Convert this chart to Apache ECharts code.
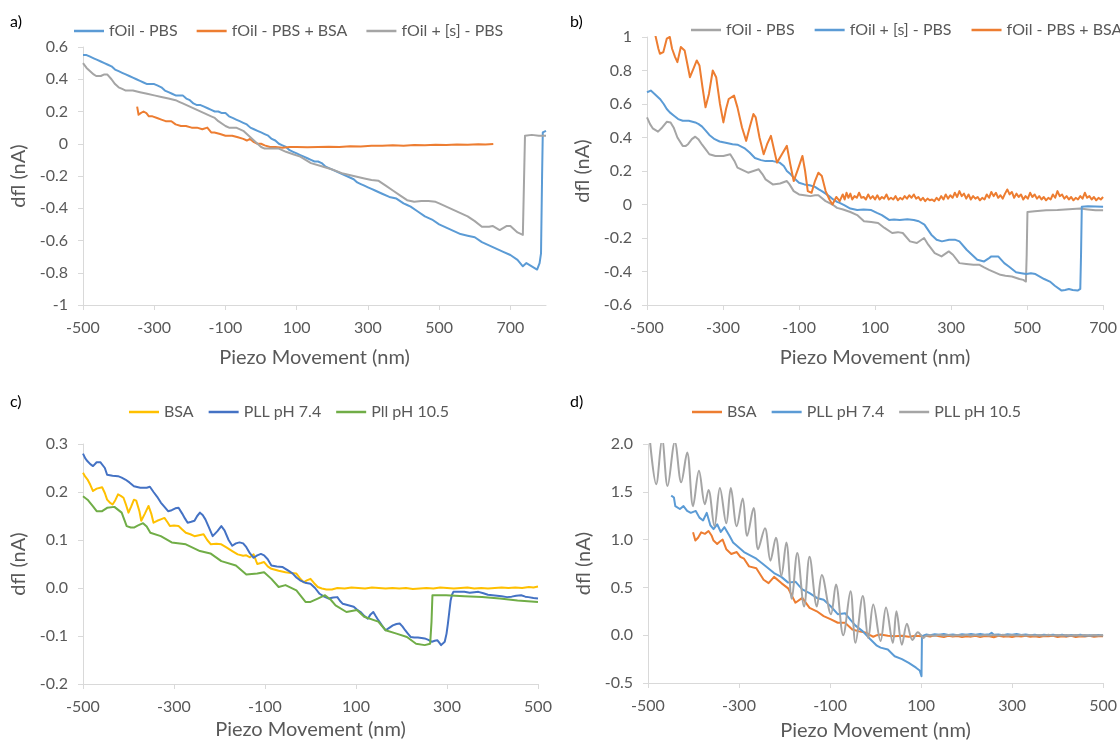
<!DOCTYPE html>
<html>
<head>
<meta charset="utf-8">
<script src="https://cdn.jsdelivr.net/npm/echarts@6/dist/echarts.min.js"></script>
<style>
  html, body { margin: 0; padding: 0; background: #ffffff; }
  #wrap { position: relative; width: 1120px; height: 746px; overflow: hidden; }
  .panel { position: absolute; width: 560px; height: 373px; }
</style>
</head>
<body>
<div id="wrap">
  <div class="panel" id="pa" style="left:0;top:0"></div>
  <div class="panel" id="pb" style="left:560px;top:0"></div>
  <div class="panel" id="pc" style="left:0;top:373px"></div>
  <div class="panel" id="pd" style="left:560px;top:373px"></div>
</div>
<script>
// ---------- panel a) ----------
const aLegend = ['fOil - PBS', 'fOil - PBS + BSA', 'fOil + [s] - PBS'];
const aXAxis = [-500, 800, 200];   // min, max, interval (nm)
const aYAxis = [-1, 0.6, 0.2];     // min, max, interval (nA)
const aPBS = [[-500,0.55],[-490,0.55],[-480,0.54],[-470,0.53],[-460,0.52],[-450,0.51],[-440,0.50],[-430,0.49],[-420,0.48],[-410,0.46],[-400,0.45],[-390,0.44],[-380,0.43],[-370,0.42],[-360,0.41],[-350,0.40],[-340,0.39],[-330,0.38],[-320,0.37],[-310,0.37],[-300,0.37],[-290,0.36],[-280,0.35],[-270,0.33],[-260,0.32],[-250,0.31],[-240,0.30],[-230,0.30],[-220,0.30],[-210,0.28],[-200,0.27],[-190,0.25],[-180,0.24],[-170,0.24],[-160,0.23],[-150,0.22],[-140,0.21],[-130,0.20],[-120,0.20],[-110,0.19],[-100,0.19],[-90,0.17],[-80,0.16],[-70,0.15],[-60,0.14],[-50,0.13],[-40,0.12],[-30,0.10],[-20,0.09],[-10,0.08],[0,0.07],[10,0.06],[20,0.05],[30,0.03],[40,0.02],[50,0.00],[60,-0.01],[70,-0.02],[80,-0.04],[90,-0.05],[100,-0.06],[110,-0.07],[120,-0.08],[130,-0.09],[140,-0.10],[150,-0.11],[160,-0.11],[170,-0.12],[180,-0.14],[200,-0.16],[220,-0.18],[240,-0.20],[260,-0.22],[270,-0.24],[280,-0.25],[290,-0.26],[300,-0.27],[310,-0.28],[320,-0.29],[340,-0.31],[360,-0.33],[380,-0.34],[400,-0.37],[410,-0.38],[420,-0.39],[440,-0.42],[460,-0.45],[480,-0.47],[500,-0.50],[520,-0.52],[540,-0.54],[560,-0.56],[580,-0.57],[600,-0.58],[620,-0.61],[640,-0.63],[660,-0.65],[680,-0.67],[700,-0.69],[720,-0.72],[735,-0.76],[745,-0.74],[760,-0.76],[775,-0.78],[782,-0.74],[786,-0.68],[789,-0.2],[791,0.07],[795,0.08],[800,0.08]];
const aBSA = [[-348,0.23],[-344,0.18],[-338,0.19],[-330,0.20],[-322,0.19],[-315,0.17],[-305,0.17],[-292,0.16],[-280,0.15],[-268,0.14],[-252,0.14],[-240,0.12],[-225,0.11],[-211,0.11],[-195,0.10],[-180,0.10],[-165,0.09],[-151,0.10],[-140,0.07],[-131,0.07],[-115,0.06],[-100,0.05],[-81,0.05],[-65,0.04],[-50,0.03],[-40,0.02],[-31,0.03],[-20,0.01],[-10,0.00],[0,0.00],[10,-0.01],[25,-0.02],[40,-0.02],[60,-0.025],[80,-0.02],[100,-0.02],[130,-0.022],[160,-0.02],[190,-0.018],[220,-0.02],[250,-0.015],[280,-0.017],[310,-0.012],[340,-0.013],[370,-0.01],[400,-0.012],[430,-0.008],[460,-0.01],[490,-0.006],[520,-0.008],[550,-0.005],[580,-0.006],[610,-0.003],[630,-0.005],[652,-0.002]];
const aS = [[-500,0.50],[-490,0.47],[-480,0.45],[-470,0.43],[-463,0.42],[-450,0.42],[-440,0.43],[-432,0.43],[-420,0.40],[-410,0.37],[-400,0.35],[-390,0.34],[-380,0.33],[-360,0.33],[-340,0.32],[-320,0.31],[-300,0.30],[-280,0.29],[-260,0.28],[-240,0.27],[-230,0.26],[-220,0.25],[-200,0.23],[-180,0.21],[-160,0.19],[-140,0.17],[-130,0.16],[-120,0.14],[-100,0.11],[-90,0.10],[-70,0.10],[-50,0.08],[-30,0.04],[-10,0.00],[0,-0.02],[10,-0.03],[30,-0.03],[50,-0.03],[70,-0.05],[90,-0.065],[110,-0.08],[140,-0.12],[170,-0.14],[200,-0.16],[230,-0.185],[260,-0.20],[290,-0.215],[310,-0.225],[330,-0.23],[350,-0.26],[370,-0.29],[390,-0.32],[410,-0.35],[430,-0.36],[450,-0.355],[470,-0.355],[490,-0.36],[500,-0.37],[520,-0.39],[540,-0.41],[560,-0.43],[580,-0.45],[600,-0.48],[620,-0.515],[640,-0.515],[650,-0.51],[670,-0.535],[690,-0.51],[700,-0.51],[720,-0.55],[735,-0.565],[740,-0.56],[741,0.05],[760,0.055],[780,0.05],[800,0.05]];

// ---------- panel b) ----------
const bLegend = ['fOil - PBS', 'fOil + [s] - PBS', 'fOil - PBS + BSA'];
const bXAxis = [-500, 700, 200];
const bYAxis = [-0.6, 1, 0.2];
const bPBS = [[-500,0.52],[-492,0.48],[-485,0.455],[-471,0.435],[-460,0.46],[-448,0.494],[-438,0.49],[-430,0.46],[-420,0.40],[-406,0.35],[-398,0.35],[-392,0.36],[-382,0.39],[-373,0.405],[-365,0.39],[-355,0.357],[-346,0.33],[-336,0.30],[-320,0.29],[-299,0.29],[-281,0.30],[-270,0.26],[-262,0.22],[-248,0.205],[-234,0.19],[-220,0.20],[-206,0.21],[-196,0.18],[-188,0.15],[-169,0.12],[-150,0.125],[-132,0.14],[-125,0.12],[-114,0.08],[-100,0.06],[-86,0.055],[-70,0.05],[-58,0.055],[-49,0.055],[-30,0.02],[-12,0.0],[0,-0.02],[16,-0.03],[35,-0.045],[53,-0.063],[71,-0.10],[90,-0.105],[108,-0.11],[125,-0.14],[145,-0.17],[160,-0.165],[173,-0.17],[192,-0.22],[210,-0.23],[229,-0.20],[240,-0.24],[257,-0.29],[275,-0.31],[294,-0.28],[305,-0.30],[322,-0.35],[340,-0.355],[359,-0.36],[375,-0.36],[387,-0.375],[400,-0.39],[415,-0.405],[430,-0.42],[443,-0.425],[460,-0.43],[480,-0.445],[490,-0.45],[497,-0.46],[499,-0.3],[501,-0.045],[520,-0.04],[550,-0.035],[580,-0.033],[610,-0.028],[640,-0.024],[660,-0.03],[680,-0.035],[700,-0.035]];
const bS = [[-500,0.67],[-490,0.68],[-480,0.66],[-466,0.63],[-456,0.60],[-448,0.57],[-440,0.55],[-429,0.53],[-418,0.51],[-406,0.50],[-390,0.50],[-373,0.49],[-364,0.48],[-355,0.465],[-345,0.44],[-336,0.415],[-322,0.39],[-309,0.376],[-290,0.367],[-275,0.36],[-262,0.357],[-244,0.337],[-230,0.31],[-216,0.278],[-200,0.265],[-188,0.259],[-169,0.259],[-151,0.25],[-140,0.23],[-132,0.20],[-122,0.18],[-114,0.16],[-100,0.13],[-86,0.12],[-72,0.115],[-58,0.105],[-48,0.09],[-40,0.08],[-30,0.065],[-21,0.05],[-10,0.03],[0,0.016],[7,0.01],[20,-0.005],[35,-0.024],[53,-0.033],[70,-0.03],[90,-0.033],[105,-0.05],[118,-0.063],[137,-0.092],[150,-0.09],[165,-0.092],[185,-0.088],[202,-0.092],[215,-0.10],[230,-0.12],[248,-0.18],[262,-0.21],[276,-0.22],[295,-0.21],[310,-0.21],[322,-0.22],[341,-0.27],[355,-0.30],[369,-0.33],[387,-0.34],[400,-0.32],[406,-0.31],[424,-0.31],[440,-0.35],[452,-0.37],[471,-0.405],[485,-0.41],[498,-0.415],[510,-0.41],[522,-0.415],[545,-0.445],[560,-0.46],[573,-0.485],[591,-0.514],[600,-0.51],[610,-0.504],[620,-0.51],[633,-0.514],[640,-0.504],[642,-0.3],[644,-0.014],[660,-0.01],[680,-0.012],[700,-0.014]];
const bBSA = [[-480,1.03],[-470,0.93],[-466,0.90],[-457,0.91],[-448,0.99],[-440,1.0],[-434,0.93],[-426,0.88],[-420,0.85],[-411,0.94],[-401,0.92],[-394,0.84],[-387,0.76],[-378,0.81],[-369,0.86],[-362,0.83],[-354,0.70],[-346,0.58],[-337,0.66],[-327,0.80],[-318,0.76],[-308,0.60],[-299,0.49],[-292,0.57],[-285,0.63],[-271,0.65],[-262,0.58],[-250,0.46],[-239,0.38],[-230,0.46],[-220,0.54],[-214,0.52],[-204,0.40],[-193,0.30],[-184,0.36],[-174,0.41],[-166,0.33],[-158,0.25],[-145,0.30],[-132,0.35],[-123,0.24],[-114,0.14],[-103,0.21],[-91,0.29],[-84,0.20],[-77,0.08],[-67,0.07],[-58,0.14],[-49,0.19],[-40,0.17],[-30,0.08],[-20,0.03],[-12,0.0],[-2,0.045],[7,0.02],[15,0.06],[20,0.03],[25,0.07],[30,0.04],[35,0.065],[40,0.03],[46,0.05],[52,0.04],[58,0.07],[64,0.04],[70,0.045],[76,0.03],[82,0.06],[88,0.035],[94,0.05],[100,0.03],[106,0.055],[112,0.03],[118,0.045],[124,0.035],[130,0.06],[136,0.03],[142,0.04],[148,0.03],[154,0.05],[160,0.025],[166,0.04],[172,0.03],[178,0.05],[184,0.035],[190,0.055],[196,0.04],[202,0.06],[208,0.035],[214,0.045],[220,0.025],[226,0.04],[232,0.02],[238,0.035],[244,0.025],[250,0.03],[256,0.02],[262,0.04],[268,0.025],[274,0.05],[280,0.03],[286,0.06],[292,0.035],[298,0.055],[304,0.04],[310,0.07],[316,0.045],[322,0.08],[328,0.05],[334,0.065],[340,0.035],[346,0.06],[352,0.03],[358,0.05],[364,0.035],[370,0.045],[376,0.025],[382,0.04],[388,0.03],[394,0.06],[400,0.04],[406,0.075],[412,0.05],[418,0.07],[424,0.04],[430,0.055],[436,0.035],[442,0.065],[448,0.09],[454,0.06],[460,0.075],[466,0.04],[472,0.065],[478,0.045],[484,0.06],[490,0.03],[496,0.05],[502,0.035],[508,0.07],[514,0.045],[520,0.06],[526,0.035],[532,0.05],[538,0.03],[544,0.045],[550,0.025],[556,0.04],[562,0.03],[568,0.06],[574,0.04],[580,0.08],[586,0.05],[592,0.06],[598,0.035],[604,0.05],[610,0.03],[616,0.045],[622,0.025],[628,0.04],[634,0.03],[640,0.05],[646,0.035],[652,0.07],[658,0.04],[664,0.05],[670,0.03],[676,0.045],[682,0.025],[688,0.04],[694,0.03],[700,0.045]];

// ---------- panel c) ----------
const cLegend = ['BSA', 'PLL pH 7.4', 'Pll pH 10.5'];
const cXAxis = [-500, 500, 200];
const cYAxis = [-0.2, 0.3, 0.1];
const cBSA = [[-500,0.24],[-495,0.232],[-490,0.226],[-484,0.215],[-478,0.202],[-470,0.207],[-466,0.209],[-458,0.21],[-452,0.198],[-447,0.184],[-441,0.178],[-435,0.174],[-429,0.183],[-423,0.195],[-417,0.192],[-411,0.188],[-405,0.172],[-400,0.157],[-394,0.17],[-388,0.184],[-383,0.182],[-380,0.178],[-376,0.16],[-372,0.14],[-364,0.155],[-356,0.171],[-350,0.155],[-345,0.136],[-337,0.14],[-329,0.143],[-321,0.146],[-315,0.138],[-309,0.129],[-300,0.13],[-290,0.129],[-282,0.122],[-274,0.115],[-264,0.112],[-255,0.108],[-245,0.11],[-235,0.112],[-227,0.1],[-219,0.091],[-207,0.092],[-196,0.091],[-184,0.084],[-172,0.077],[-160,0.07],[-148,0.067],[-141,0.068],[-133,0.064],[-125,0.07],[-117,0.05],[-109,0.052],[-102,0.054],[-94,0.045],[-86,0.04],[-70,0.036],[-55,0.033],[-43,0.031],[-31,0.03],[-23,0.02],[-15,0.012],[-8,0.016],[0,0.019],[8,0.01],[16,0.002],[25,-0.001],[35,-0.003],[47,-0.003],[59,0.0],[75,-0.001],[90,0.001],[105,0.0],[120,-0.001],[135,0.001],[150,0.0],[165,-0.001],[180,0.0],[195,-0.001],[210,0.0],[225,-0.002],[240,-0.001],[255,0.0],[270,-0.001],[285,0.001],[300,0.0],[315,-0.001],[330,0.0],[345,0.001],[360,-0.001],[375,0.0],[390,-0.001],[405,0.0],[420,0.001],[435,0.0],[450,0.001],[465,0.0],[480,0.002],[490,0.001],[500,0.003]];
const cPLL74 = [[-500,0.28],[-495,0.27],[-490,0.264],[-484,0.258],[-478,0.254],[-470,0.262],[-462,0.262],[-458,0.26],[-452,0.25],[-447,0.236],[-435,0.234],[-423,0.233],[-415,0.23],[-407,0.226],[-398,0.22],[-388,0.212],[-374,0.209],[-360,0.209],[-353,0.211],[-345,0.20],[-337,0.19],[-329,0.178],[-320,0.168],[-313,0.16],[-305,0.162],[-297,0.166],[-290,0.167],[-282,0.155],[-276,0.145],[-270,0.136],[-262,0.138],[-255,0.14],[-249,0.15],[-243,0.157],[-237,0.152],[-231,0.143],[-224,0.128],[-215,0.108],[-205,0.118],[-196,0.129],[-189,0.12],[-180,0.10],[-172,0.088],[-164,0.093],[-156,0.095],[-148,0.093],[-141,0.085],[-133,0.072],[-125,0.063],[-117,0.068],[-109,0.071],[-102,0.068],[-94,0.06],[-86,0.047],[-74,0.045],[-62,0.044],[-55,0.04],[-47,0.035],[-39,0.03],[-31,0.022],[-23,0.016],[-12,0.011],[0,0.009],[10,0.0],[20,-0.012],[30,-0.018],[40,-0.022],[50,-0.02],[59,-0.019],[65,-0.027],[71,-0.033],[83,-0.036],[95,-0.039],[102,-0.045],[110,-0.05],[118,-0.058],[126,-0.064],[132,-0.055],[138,-0.05],[143,-0.058],[149,-0.067],[157,-0.078],[165,-0.088],[173,-0.083],[181,-0.078],[189,-0.075],[196,-0.074],[202,-0.08],[208,-0.088],[214,-0.095],[220,-0.102],[228,-0.103],[236,-0.103],[244,-0.104],[251,-0.105],[259,-0.108],[267,-0.112],[273,-0.11],[279,-0.109],[283,-0.114],[287,-0.119],[291,-0.116],[295,-0.112],[299,-0.095],[302,-0.074],[305,-0.05],[308,-0.026],[311,-0.014],[314,-0.008],[325,-0.008],[338,-0.008],[350,-0.01],[360,-0.009],[369,-0.008],[380,-0.011],[390,-0.014],[400,-0.015],[410,-0.016],[420,-0.017],[432,-0.019],[442,-0.018],[452,-0.016],[463,-0.015],[472,-0.018],[479,-0.019],[490,-0.021],[500,-0.022]];
const cPLL105 = [[-500,0.191],[-490,0.184],[-478,0.17],[-470,0.16],[-458,0.16],[-447,0.167],[-431,0.169],[-415,0.157],[-404,0.129],[-395,0.126],[-388,0.126],[-380,0.13],[-368,0.135],[-360,0.128],[-352,0.115],[-329,0.108],[-305,0.095],[-274,0.091],[-243,0.077],[-220,0.072],[-196,0.056],[-164,0.047],[-141,0.028],[-117,0.03],[-102,0.033],[-86,0.019],[-70,0.002],[-55,0.006],[-31,-0.005],[-11,-0.029],[0,-0.029],[16,-0.022],[32,-0.015],[45,-0.025],[55,-0.036],[79,-0.05],[102,-0.046],[118,-0.06],[149,-0.07],[165,-0.088],[189,-0.095],[212,-0.102],[232,-0.116],[251,-0.119],[263,-0.116],[266,-0.07],[268,-0.015],[298,-0.015],[338,-0.017],[377,-0.019],[416,-0.022],[455,-0.026],[500,-0.029]];

// ---------- panel d) ----------
const dLegend = ['BSA', 'PLL pH 7.4', 'PLL pH 10.5'];
const dXAxis = [-500, 500, 200];
const dYAxis = [-0.5, 2, 0.5];
const dBSA = [[-401,1.076],[-396,0.99],[-390,1.02],[-383,1.076],[-375,1.06],[-367,1.09],[-360,1.04],[-356,0.99],[-348,0.955],[-342,0.98],[-336,1.0],[-328,0.90],[-317,0.85],[-305,0.87],[-297,0.82],[-289,0.80],[-285,0.80],[-278,0.72],[-262,0.70],[-246,0.58],[-235,0.545],[-223,0.61],[-207,0.545],[-192,0.49],[-176,0.34],[-161,0.39],[-145,0.285],[-129,0.25],[-114,0.2],[-98,0.165],[-83,0.13],[-67,0.13],[-51,0.06],[-36,0.04],[-20,0.025],[-12,0.0],[-5,-0.016],[3,0.0],[11,0.007],[27,-0.005],[42,-0.01],[58,-0.005],[73,-0.016],[89,-0.005],[100,-0.01],[110,-0.005],[120,-0.015],[130,-0.002],[140,-0.012],[150,-0.02],[160,-0.005],[170,-0.015],[180,-0.008],[190,-0.02],[200,-0.01],[210,-0.015],[220,-0.005],[230,-0.018],[240,-0.008],[250,-0.012],[260,-0.022],[270,-0.006],[280,-0.015],[290,-0.01],[300,-0.02],[310,-0.008],[320,-0.014],[330,-0.005],[340,-0.016],[350,-0.01],[360,-0.02],[370,-0.008],[380,-0.012],[390,-0.006],[400,-0.018],[410,-0.01],[420,-0.015],[430,-0.006],[440,-0.02],[450,-0.01],[460,-0.014],[470,-0.006],[480,-0.016],[490,-0.01],[500,-0.012]];
const dPLL74 = [[-449,1.46],[-443,1.44],[-440,1.35],[-430,1.32],[-422,1.35],[-414,1.30],[-406,1.28],[-395,1.30],[-387,1.23],[-379,1.20],[-371,1.28],[-363,1.15],[-356,1.11],[-348,1.16],[-340,1.08],[-332,1.13],[-321,1.04],[-313,0.97],[-301,0.92],[-289,0.87],[-285,0.86],[-262,0.80],[-246,0.74],[-223,0.65],[-207,0.61],[-192,0.55],[-176,0.56],[-161,0.48],[-145,0.44],[-129,0.39],[-114,0.37],[-98,0.30],[-83,0.22],[-67,0.23],[-55,0.16],[-44,0.10],[-28,0.04],[-12,-0.04],[3,-0.11],[11,-0.13],[27,-0.15],[42,-0.22],[58,-0.25],[73,-0.29],[89,-0.34],[97,-0.37],[101,-0.43],[102,-0.01],[112,0.007],[120,0.0],[130,0.01],[140,0.004],[150,0.012],[160,0.002],[170,0.008],[180,0.0],[190,0.01],[200,0.004],[210,0.012],[220,0.006],[230,0.014],[240,0.004],[250,0.01],[255,0.025],[260,0.005],[270,0.008],[280,0.0],[290,0.01],[300,0.005],[310,0.012],[320,0.002],[330,0.008],[340,0.0],[350,0.006],[360,-0.004],[370,0.004],[380,0.0],[390,0.006],[400,-0.004],[410,0.004],[420,-0.006],[430,0.002],[440,-0.004],[450,0.004],[460,-0.006],[470,0.0],[480,-0.004],[490,0.002],[500,-0.002]];
const dPLL105 = [[-497,2.1],[-482,1.58],[-469,2.05],[-457,1.56],[-441,2.02],[-427,1.60],[-414,1.91],[-401,1.35],[-388,1.72],[-375,1.37],[-367,1.52],[-354,1.14],[-342,1.54],[-328,1.17],[-318,1.54],[-305,1.14],[-292,1.43],[-282,1.04],[-268,1.33],[-258,0.90],[-243,1.12],[-231,0.78],[-219,1.02],[-207,0.62],[-196,0.97],[-184,0.38],[-172,0.86],[-157,0.30],[-145,0.82],[-129,0.30],[-118,0.63],[-98,0.22],[-87,0.53],[-71,0.0],[-55,0.46],[-44,-0.08],[-28,0.41],[-16,-0.03],[-5,0.32],[11,-0.06],[23,0.29],[38,-0.08],[46,0.25],[58,-0.1],[69,0.12],[81,-0.05],[93,0.03],[100,0.0],[105,-0.03],[110,-0.01],[120,0.0],[130,-0.006],[140,0.004],[150,-0.004],[160,0.003],[170,-0.005],[180,0.002],[190,-0.004],[200,0.004],[210,-0.003],[220,0.002],[230,-0.006],[240,0.003],[250,-0.004],[260,0.002],[270,-0.005],[280,0.004],[290,-0.003],[300,0.002],[310,-0.004],[320,0.003],[330,-0.005],[340,0.002],[350,-0.004],[360,0.003],[370,-0.003],[380,0.004],[390,-0.005],[400,0.002],[410,-0.004],[420,0.003],[430,-0.003],[440,0.002],[450,-0.005],[460,0.003],[470,-0.004],[480,0.002],[490,-0.003],[500,0.002]];

// Excel-like palette
const BLUE = '#5B9BD5', ORANGE = '#ED7D31', GRAY = '#A5A5A5';
const GOLD = '#FFC000', DARKBLUE = '#4472C4', GREEN = '#70AD47';
const TXT = '#595959', AXIS = '#D9D9D9';
const FONT = 'Lato, "Open Sans", sans-serif';

function lineSeries(name, data, color, smooth) {
  return {
    name: name, type: 'line', data: data, color: color,
    showSymbol: false, symbol: 'none', clip: true, smooth: smooth || false,
    lineStyle: { width: 2, color: color, join: 'round' },
    animation: false
  };
}

function buildPanel(el, cfg) {
  const chart = echarts.init(document.getElementById(el), null, { renderer: 'canvas' });
  chart.setOption({
    animation: false,
    textStyle: { fontFamily: FONT },
    grid: cfg.grid,
    legend: {
      data: cfg.legend, left: cfg.legendLeft, top: cfg.legendTop, width: 540, padding: 0,
      icon: 'rect', itemWidth: 30, itemHeight: 2.5, itemGap: cfg.legendGap,
      textStyle: { color: TXT, fontSize: 16, fontFamily: FONT },
      selectedMode: false
    },
    graphic: [{
      type: 'text', left: 10, top: cfg.tagTop,
      style: { text: cfg.tag, fill: '#000', font: '16px ' + FONT }
    }],
    xAxis: {
      type: 'value', min: cfg.x[0], max: cfg.x[1], interval: cfg.x[2],
      name: 'Piezo Movement (nm)', nameLocation: 'middle', nameGap: cfg.xNameGap,
      nameTextStyle: { color: TXT, fontSize: 20, fontFamily: FONT },
      axisLine: { onZero: false, lineStyle: { color: AXIS, width: 1 } },
      axisTick: { show: true, length: 5, lineStyle: { color: AXIS } },
      axisLabel: { color: TXT, fontSize: 16, margin: 15, showMaxLabel: cfg.showMaxX !== false },
      splitLine: { show: false }
    },
    yAxis: {
      type: 'value', min: cfg.y[0], max: cfg.y[1], interval: cfg.y[2],
      name: 'dfl (nA)', nameLocation: 'middle', nameGap: 50,
      nameTextStyle: { color: TXT, fontSize: 20, fontFamily: FONT },
      axisLine: { show: true, onZero: false, lineStyle: { color: AXIS, width: 1 } },
      axisTick: { show: true, length: 5, lineStyle: { color: AXIS } },
      axisLabel: { color: TXT, fontSize: 16, margin: 15, formatter: cfg.yFmt },
      splitLine: { show: false }
    },
    series: cfg.series
  });
  return chart;
}

buildPanel('pa', {
  tag: 'a)', tagTop: 14,
  grid: { left: 83, top: 47, width: 463, height: 260 },
  legend: aLegend, legendLeft: 74, legendTop: 23, legendGap: 19,
  x: aXAxis, y: aYAxis, showMaxX: false, xNameGap: 43,
  yFmt: v => String(Math.round(v * 10) / 10),
  series: [lineSeries(aLegend[0], aPBS, BLUE), lineSeries(aLegend[1], aBSA, ORANGE), lineSeries(aLegend[2], aS, GRAY)]
});

buildPanel('pb', {
  tag: 'b)', tagTop: 14,
  grid: { left: 87, top: 37, width: 462, height: 272 },
  legend: bLegend, legendLeft: 131, legendTop: 22, legendGap: 20,
  x: bXAxis, y: bYAxis, xNameGap: 43,
  yFmt: v => String(Math.round(v * 10) / 10),
  series: [lineSeries(bLegend[0], bPBS, GRAY), lineSeries(bLegend[1], bS, BLUE), lineSeries(bLegend[2], bBSA, ORANGE)]
});

buildPanel('pc', {
  tag: 'c)', tagTop: 21,
  grid: { left: 83, top: 71, width: 455, height: 240 },
  legend: cLegend, legendLeft: 129, legendTop: 31, legendGap: 15,
  x: cXAxis, y: cYAxis, xNameGap: 36,
  yFmt: v => v.toFixed(1),
  series: [lineSeries(cLegend[0], cBSA, GOLD), lineSeries(cLegend[1], cPLL74, DARKBLUE), lineSeries(cLegend[2], cPLL105, GREEN)]
});

buildPanel('pd', {
  tag: 'd)', tagTop: 21,
  grid: { left: 88, top: 71, width: 458, height: 240 },
  legend: dLegend, legendLeft: 132, legendTop: 31, legendGap: 15,
  x: dXAxis, y: dYAxis, xNameGap: 38,
  yFmt: v => v.toFixed(1),
  series: [lineSeries(dLegend[0], dBSA, ORANGE), lineSeries(dLegend[1], dPLL74, BLUE), lineSeries(dLegend[2], dPLL105, GRAY, 0.35)]
});
</script>
</body>
</html>
